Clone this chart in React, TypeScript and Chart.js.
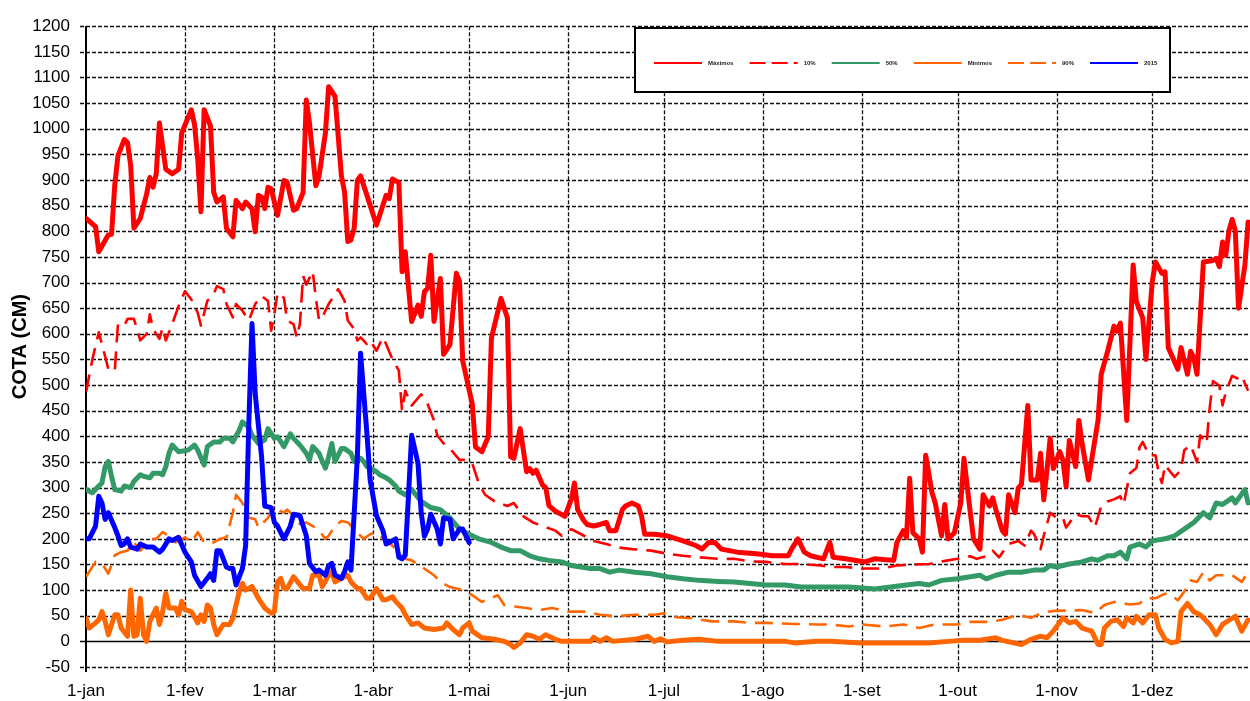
import React, { useEffect, useRef } from 'react';
import { Chart, registerables } from 'chart.js';

Chart.register(...registerables);

// ---------- axis data ----------
const monthStartDays = [0, 31, 59, 90, 120, 151, 181, 212, 243, 273, 304, 334];
const monthLabels = ['1-jan', '1-fev', '1-mar', '1-abr', '1-mai', '1-jun', '1-jul', '1-ago', '1-set', '1-out', '1-nov', '1-dez'];
const yMin = -50;
const yMax = 1200;
const yStep = 50;
const yTitle = 'COTA (CM)';

// ---------- series labels ----------
const seriesLabels = ['Máximos', '10%', '50%', 'Mínimos', '90%', '2015'];

// ---------- series values: [day of year, cota] ----------
const maximosPts: [number, number][] = [
  [0, 825], [3, 809], [4, 760], [7, 793], [8, 794], [9, 889], [10, 947], [12, 979], [13, 973], [14, 928],
  [15, 806], [17, 825], [19, 873], [20, 905], [21, 886], [22, 912], [23, 1011], [25, 921], [27, 912], [29, 921],
  [30, 992], [33, 1037], [34, 1008], [35, 941], [36, 838], [37, 1037], [39, 1005], [40, 876], [41, 857], [43, 867],
  [44, 806], [46, 789], [47, 860], [49, 844], [50, 857], [52, 844], [53, 799], [54, 870], [55, 867], [56, 844],
  [57, 886], [58, 883], [60, 831], [62, 899], [63, 896], [65, 841], [66, 844], [68, 876], [69, 1056], [70, 1011],
  [72, 889], [73, 908], [75, 992], [76, 1082], [78, 1063], [80, 908], [81, 876], [82, 780], [83, 783], [84, 806],
  [85, 899], [86, 908], [88, 870], [91, 812], [94, 870], [95, 864], [96, 902], [98, 895], [99, 721], [100, 760],
  [102, 624], [104, 656], [105, 634], [106, 682], [107, 689], [108, 753], [109, 624], [111, 708], [112, 560], [114, 579],
  [115, 650], [116, 718], [117, 702], [118, 547], [121, 463], [122, 379], [124, 370], [126, 399], [127, 592], [130, 669],
  [132, 631], [133, 360], [134, 357], [136, 415], [138, 331], [139, 337], [140, 328], [141, 334], [143, 305], [144, 300],
  [145, 265], [147, 254], [150, 244], [152, 277], [153, 309], [154, 257], [156, 235], [157, 228], [159, 225], [161, 228],
  [163, 232], [164, 216], [166, 216], [168, 257], [169, 264], [171, 270], [173, 264], [174, 245], [175, 209], [178, 209],
  [182, 206], [187, 196], [191, 187], [193, 180], [195, 193], [197, 193], [199, 180], [204, 174], [210, 171], [215, 167],
  [220, 167], [221, 180], [223, 200], [225, 174], [227, 167], [231, 161], [233, 193], [234, 164], [238, 161], [244, 155],
  [247, 161], [253, 158], [254, 193], [256, 216], [257, 203], [258, 318], [259, 212], [261, 200], [262, 174], [263, 363],
  [265, 290], [266, 270], [268, 206], [269, 267], [270, 200], [272, 212], [274, 270], [275, 357], [277, 251], [278, 200],
  [280, 180], [281, 286], [283, 264], [284, 280], [285, 257], [287, 216], [288, 209], [289, 286], [291, 251], [292, 299],
  [293, 306], [295, 460], [296, 315], [298, 315], [299, 367], [300, 276], [301, 334], [302, 396], [303, 337], [305, 370],
  [306, 354], [307, 302], [308, 392], [310, 341], [311, 431], [312, 386], [314, 315], [317, 431], [318, 521], [320, 566],
  [322, 615], [323, 605], [324, 621], [326, 431], [328, 734], [329, 663], [331, 631], [332, 550], [334, 702], [335, 740],
  [337, 718], [338, 721], [339, 573], [342, 531], [343, 573], [345, 521], [346, 566], [347, 553], [348, 521], [350, 740],
  [353, 743], [354, 747], [355, 731], [356, 779], [357, 753], [358, 801], [359, 823], [360, 801], [361, 650], [363, 734],
  [364, 818],
];

const p10Pts: [number, number][] = [
  [0, 486], [2, 550], [4, 603], [5, 580], [7, 531], [9, 527], [10, 619], [12, 616], [13, 629], [15, 629],
  [16, 609], [17, 587], [19, 600], [20, 638], [21, 609], [23, 590], [24, 612], [25, 587], [27, 619], [29, 654],
  [31, 683], [33, 667], [35, 641], [36, 616], [38, 664], [40, 677], [41, 693], [43, 687], [44, 658], [46, 632],
  [47, 658], [49, 645], [51, 626], [53, 658], [55, 674], [57, 664], [58, 606], [59, 638], [60, 680], [62, 670],
  [63, 626], [65, 619], [66, 593], [67, 619], [68, 713], [69, 696], [71, 722], [72, 670], [73, 626], [74, 632],
  [76, 658], [78, 677], [79, 687], [81, 664], [82, 626], [84, 609], [85, 587], [86, 593], [88, 580], [89, 587],
  [91, 567], [93, 593], [94, 580], [96, 550], [98, 528], [99, 450], [100, 489], [102, 460], [105, 482], [107, 463],
  [109, 431], [110, 402], [112, 386], [114, 376], [117, 354], [119, 354], [121, 347], [123, 309], [125, 286], [128, 273],
  [132, 264], [134, 270], [137, 244], [140, 232], [143, 225], [147, 216], [149, 206], [152, 219], [156, 206], [159, 196],
  [163, 190], [167, 183], [171, 180], [177, 177], [182, 171], [187, 167], [192, 164], [198, 161], [203, 161], [208, 156],
  [213, 155], [219, 151], [224, 151], [230, 148], [233, 145], [238, 145], [243, 142], [249, 142], [254, 148], [259, 150],
  [264, 151], [270, 158], [273, 161], [275, 164], [277, 166], [279, 161], [282, 166], [284, 177], [286, 164], [289, 190],
  [292, 196], [294, 187], [296, 216], [297, 209], [299, 180], [300, 206], [302, 251], [304, 241], [306, 241], [307, 222],
  [310, 248], [312, 244], [314, 244], [316, 222], [318, 264], [320, 273], [322, 277], [324, 283], [325, 267], [327, 328],
  [329, 338], [330, 379], [331, 389], [333, 363], [335, 363], [336, 328], [337, 309], [338, 344], [340, 328], [341, 321],
  [343, 334], [344, 373], [346, 383], [348, 350], [349, 402], [351, 386], [352, 457], [353, 508], [355, 499], [356, 460],
  [357, 486], [359, 518], [361, 512], [362, 518], [364, 489],
];

const p50Pts: [number, number][] = [
  [0, 296], [2, 290], [4, 303], [5, 309], [6, 341], [7, 351], [8, 322], [9, 296], [11, 293], [12, 303],
  [14, 300], [15, 312], [17, 325], [18, 322], [20, 319], [21, 328], [23, 328], [24, 325], [25, 341], [26, 367],
  [27, 383], [29, 370], [32, 373], [34, 383], [35, 373], [37, 344], [38, 380], [40, 389], [42, 389], [43, 396],
  [45, 396], [46, 389], [48, 412], [49, 428], [51, 418], [52, 402], [54, 386], [56, 393], [57, 415], [59, 396],
  [60, 399], [62, 380], [64, 405], [65, 396], [67, 383], [69, 367], [70, 354], [71, 380], [73, 367], [74, 351],
  [75, 338], [76, 360], [77, 386], [78, 351], [80, 376], [81, 376], [83, 367], [84, 351], [86, 357], [87, 351],
  [88, 341], [89, 338], [91, 331], [92, 325], [94, 319], [95, 315], [97, 303], [98, 293], [100, 286], [102, 296],
  [105, 273], [108, 261], [111, 257], [114, 241], [117, 219], [120, 209], [123, 200], [127, 193], [130, 184], [133, 177],
  [136, 177], [139, 167], [142, 161], [145, 158], [149, 155], [152, 148], [155, 145], [158, 142], [161, 142], [164, 135],
  [167, 139], [172, 135], [177, 132], [182, 126], [187, 122], [192, 119], [198, 117], [203, 116], [208, 113], [213, 110],
  [219, 110], [224, 106], [229, 106], [233, 106], [239, 106], [247, 102], [252, 106], [257, 110], [261, 113], [264, 110],
  [268, 119], [273, 122], [277, 126], [280, 129], [282, 122], [285, 129], [289, 135], [293, 135], [297, 139], [300, 139],
  [302, 148], [304, 145], [308, 151], [312, 155], [315, 161], [317, 158], [320, 167], [322, 167], [324, 174], [326, 161],
  [327, 184], [330, 190], [332, 184], [334, 196], [338, 200], [341, 206], [344, 219], [347, 232], [350, 251], [352, 241],
  [354, 270], [356, 267], [359, 280], [360, 270], [363, 296], [364, 270],
];

const minimosPts: [number, number][] = [
  [0, 45], [1, 26], [3, 36], [4, 42], [5, 58], [6, 39], [7, 13], [9, 52], [10, 52], [11, 26],
  [13, 10], [14, 100], [15, 10], [16, 13], [17, 84], [18, 13], [19, 0], [20, 39], [22, 65], [23, 33],
  [24, 58], [25, 94], [26, 65], [28, 65], [29, 52], [30, 78], [31, 62], [33, 58], [35, 36], [36, 52],
  [37, 39], [38, 71], [39, 65], [40, 33], [41, 13], [43, 33], [45, 33], [46, 45], [48, 97], [49, 113],
  [50, 100], [52, 107], [54, 84], [56, 65], [58, 55], [59, 58], [60, 116], [61, 123], [62, 103], [63, 103],
  [65, 126], [68, 103], [70, 103], [71, 129], [73, 129], [74, 107], [76, 129], [77, 135], [78, 116], [80, 123],
  [82, 129], [83, 116], [85, 103], [86, 103], [88, 84], [89, 84], [91, 103], [93, 81], [94, 81], [96, 87],
  [97, 78], [99, 65], [100, 52], [102, 33], [104, 36], [106, 26], [109, 23], [112, 26], [113, 36], [115, 23],
  [117, 13], [118, 26], [120, 36], [121, 20], [124, 7], [128, 4], [131, 0], [133, -6], [134, -12], [136, -3],
  [138, 13], [140, 10], [142, 4], [144, 13], [147, 4], [149, 0], [153, 0], [158, 0], [159, 8], [161, 0],
  [163, 7], [165, 0], [172, 4], [176, 10], [178, 0], [180, 5], [182, -1], [187, 2], [192, 4], [198, 0],
  [208, 0], [219, 0], [222, -3], [229, 0], [233, 0], [243, -3], [254, -3], [264, -3], [270, 0], [275, 2],
  [280, 2], [285, 7], [287, 2], [293, -6], [296, 4], [299, 10], [301, 7], [303, 20], [306, 46], [308, 36],
  [310, 39], [312, 26], [315, 20], [317, -6], [318, -6], [319, 26], [321, 39], [323, 42], [325, 29], [326, 46],
  [328, 36], [329, 49], [331, 36], [333, 52], [335, 52], [336, 26], [338, 4], [340, -3], [342, 0], [343, 58],
  [345, 74], [347, 58], [349, 52], [352, 33], [354, 13], [356, 33], [360, 49], [362, 20], [364, 42],
];

const p90Pts: [number, number][] = [
  [0, 126], [3, 155], [5, 152], [7, 132], [9, 168], [11, 174], [13, 177], [15, 193], [17, 177], [20, 200],
  [22, 200], [24, 213], [26, 206], [28, 193], [31, 203], [33, 193], [35, 213], [37, 193], [40, 193], [42, 200],
  [44, 203], [46, 251], [47, 286], [49, 270], [51, 241], [53, 238], [54, 222], [57, 241], [59, 264], [60, 257],
  [62, 251], [63, 257], [65, 245], [67, 229], [69, 232], [71, 225], [73, 216], [75, 200], [76, 206], [78, 225],
  [80, 235], [82, 232], [84, 219], [86, 206], [87, 200], [89, 209], [91, 213], [93, 200], [95, 193], [97, 180],
  [98, 170], [100, 161], [102, 158], [106, 142], [109, 129], [111, 116], [114, 106], [118, 100], [121, 90], [124, 77],
  [129, 90], [131, 71], [134, 68], [138, 65], [142, 61], [146, 65], [151, 58], [156, 58], [161, 52], [166, 49],
  [172, 52], [178, 52], [181, 55], [185, 47], [190, 45], [196, 39], [203, 39], [208, 36], [213, 36], [222, 34],
  [229, 33], [233, 33], [239, 29], [243, 33], [250, 29], [256, 33], [261, 26], [266, 33], [273, 33], [277, 38],
  [283, 38], [287, 42], [292, 52], [296, 46], [300, 57], [304, 60], [308, 60], [312, 61], [316, 55], [319, 71],
  [322, 77], [325, 74], [327, 72], [330, 74], [332, 84], [335, 84], [338, 93], [340, 90], [342, 80], [344, 97],
  [346, 119], [348, 116], [350, 135], [352, 119], [354, 129], [357, 129], [359, 129], [362, 116], [364, 135],
];

const y2015Pts: [number, number][] = [
  [0, 200], [1, 200], [3, 225], [4, 283], [5, 270], [6, 238], [7, 251], [9, 222], [10, 206], [11, 187],
  [12, 190], [13, 200], [14, 184], [16, 180], [17, 190], [19, 184], [21, 184], [23, 174], [24, 180], [26, 200],
  [27, 197], [29, 203], [31, 174], [33, 155], [34, 129], [36, 107], [38, 123], [39, 132], [40, 119], [41, 177],
  [42, 177], [44, 145], [45, 142], [46, 142], [47, 110], [49, 142], [50, 187], [51, 425], [52, 620], [53, 483],
  [55, 360], [56, 264], [58, 261], [59, 232], [60, 225], [62, 200], [64, 225], [65, 248], [67, 245], [69, 206],
  [70, 152], [72, 136], [73, 139], [75, 129], [76, 148], [77, 152], [78, 129], [80, 123], [81, 136], [82, 155],
  [83, 139], [85, 360], [86, 562], [88, 405], [89, 315], [91, 245], [93, 216], [94, 190], [95, 193], [97, 200],
  [98, 164], [99, 161], [100, 168], [101, 283], [102, 402], [104, 347], [105, 251], [106, 205], [107, 219], [108, 248],
  [110, 219], [111, 190], [112, 241], [114, 238], [115, 200], [117, 219], [118, 219], [120, 193],
];

const FONT = '"Liberation Sans", Arial, Helvetica, sans-serif';

const toXY = (pts: [number, number][]) => pts.map(([x, y]) => ({ x, y }));

const gridPlugin = {
  id: 'excelGrid',
  beforeDatasetsDraw(chart: any) {
    const { ctx, chartArea, scales } = chart;
    const { left, right, top, bottom } = chartArea;
    const xs = scales.x;
    const ys = scales.y;
    ctx.save();
    ctx.strokeStyle = '#111';
    ctx.lineWidth = 1.3;
    ctx.setLineDash([4, 2]);
    for (let v = yMin; v <= yMax; v += yStep) {
      if (v === 0) continue;
      const py = Math.round(ys.getPixelForValue(v)) + 0.5;
      ctx.beginPath();
      ctx.moveTo(left - 6, py);
      ctx.lineTo(right, py);
      ctx.stroke();
    }
    monthStartDays.forEach((d) => {
      if (d === 0) return;
      const px = Math.round(xs.getPixelForValue(d)) + 0.5;
      ctx.beginPath();
      ctx.moveTo(px, top);
      ctx.lineTo(px, bottom + 5);
      ctx.stroke();
    });
    ctx.setLineDash([]);
    ctx.strokeStyle = '#000';
    ctx.lineWidth = 1.6;
    const zy = Math.round(ys.getPixelForValue(0)) + 0.5;
    ctx.beginPath();
    ctx.moveTo(left - 6, zy);
    ctx.lineTo(right, zy);
    ctx.stroke();
    ctx.lineWidth = 2;
    ctx.beginPath();
    ctx.moveTo(left, top);
    ctx.lineTo(left, bottom + 5);
    ctx.stroke();
    ctx.restore();
  },
};

const legendPlugin = {
  id: 'boxLegend',
  afterDraw(chart: any) {
    const { ctx } = chart;
    const bx = 635;
    const by = 28;
    const bw = 535;
    const bh = 64;
    ctx.save();
    ctx.fillStyle = '#fff';
    ctx.fillRect(bx, by, bw, bh);
    ctx.strokeStyle = '#000';
    ctx.lineWidth = 2;
    ctx.setLineDash([]);
    ctx.strokeRect(bx, by, bw, bh);
    ctx.font = `bold 6px ${FONT}`;
    ctx.textBaseline = 'middle';
    ctx.textAlign = 'left';
    let x = 654;
    const ly = by + bh / 2 + 3;
    chart.data.datasets.forEach((ds: any) => {
      ctx.strokeStyle = ds.borderColor;
      ctx.lineWidth = 2;
      ctx.setLineDash(ds.borderDash && ds.borderDash.length ? [16, 6] : []);
      ctx.beginPath();
      ctx.moveTo(x, ly);
      ctx.lineTo(x + 48, ly);
      ctx.stroke();
      ctx.setLineDash([]);
      ctx.fillStyle = '#222';
      ctx.fillText(ds.label, x + 54, ly);
      const tw = ctx.measureText(ds.label).width;
      x += 54 + tw + 16;
    });
    ctx.restore();
  },
};

export default function App() {
  const canvasRef = useRef<HTMLCanvasElement | null>(null);

  useEffect(() => {
    if (!canvasRef.current) return;
    Chart.defaults.font.family = FONT;
    Chart.defaults.color = '#000';
    const solid = { borderJoinStyle: 'round', borderCapStyle: 'round', borderWidth: 5 };
    const dashed = { borderJoinStyle: 'round', borderCapStyle: 'butt', borderWidth: 2.6, borderDash: [18, 9] };
    const chart = new Chart(canvasRef.current, {
      type: 'line',
      data: {
        datasets: [
          { label: seriesLabels[0], data: toXY(maximosPts), borderColor: '#FF0000', order: 5, ...solid },
          { label: seriesLabels[1], data: toXY(p10Pts), borderColor: '#FF0000', order: 4, ...dashed },
          { label: seriesLabels[2], data: toXY(p50Pts), borderColor: '#339966', order: 3, ...solid },
          { label: seriesLabels[3], data: toXY(minimosPts), borderColor: '#FF6600', order: 2, ...solid },
          { label: seriesLabels[4], data: toXY(p90Pts), borderColor: '#FF6600', order: 1, ...dashed },
          { label: seriesLabels[5], data: toXY(y2015Pts), borderColor: '#0000FF', order: 0, ...solid },
        ] as any,
      },
      options: {
        animation: false,
        responsive: false,
        devicePixelRatio: 1,
        parsing: true,
        elements: { point: { radius: 0, hoverRadius: 0 }, line: { tension: 0, fill: false } },
        layout: { padding: { top: 19, right: 0, bottom: 0, left: 0 } },
        plugins: { legend: { display: false }, tooltip: { enabled: false } },
        events: [],
        scales: {
          x: {
            type: 'linear',
            min: 0,
            max: 364.6,
            grid: { display: false, drawTicks: false, tickLength: 0 },
            border: { display: false },
            afterBuildTicks: (scale: any) => {
              scale.ticks = monthStartDays.map((v) => ({ value: v }));
            },
            afterFit: (scale: any) => {
              scale.height = 34;
            },
            ticks: {
              autoSkip: false,
              maxRotation: 0,
              padding: 14,
              color: '#000',
              font: { size: 17, family: FONT },
              callback: (_v: any, i: number) => monthLabels[i],
            },
          },
          y: {
            type: 'linear',
            min: yMin,
            max: yMax,
            grid: { display: false, drawTicks: false, tickLength: 0 },
            border: { display: false },
            afterFit: (scale: any) => {
              scale.width = 86;
            },
            ticks: {
              stepSize: yStep,
              autoSkip: false,
              padding: 16,
              color: '#000',
              font: { size: 17, family: FONT },
              callback: (v: any) => String(v),
            },
            title: {
              display: true,
              text: yTitle,
              color: '#000',
              font: { size: 20, weight: 'bold', family: FONT },
              padding: { top: 8, bottom: 0 },
            },
          },
        },
      } as any,
      plugins: [gridPlugin, legendPlugin],
    });
    return () => chart.destroy();
  }, []);

  return (
    <div style={{ position: 'absolute', left: 0, top: 0, width: 1250, height: 701, background: '#fff' }}>
      <canvas ref={canvasRef} width={1250} height={701} style={{ display: 'block' }} />
    </div>
  );
}
